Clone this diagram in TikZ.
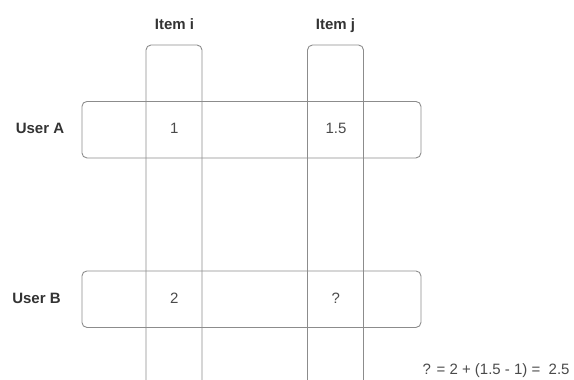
\documentclass[tikz,border=0pt]{standalone}
\usepackage{fontspec}
\setmainfont{Liberation Sans}
\begin{document}
\begin{tikzpicture}[x=1pt,y=-1pt,
  line/.style={draw=lineGray, line width=0.9pt},
  rowbox/.style={line, rounded corners=5pt},
  colbox/.style={line, rounded corners=5pt},
  hdr/.style={font=\fontsize{15}{18}\selectfont\bfseries, text=txtGray, inner sep=0pt, anchor=base},
  val/.style={font=\fontsize{15}{18}\selectfont, text=txtGray2, inner sep=0pt, anchor=base}]
\definecolor{lineGray}{HTML}{8C8C8C}
\definecolor{txtGray}{HTML}{333333}
\definecolor{txtGray2}{HTML}{4A4A4A}
\useasboundingbox (0,0) rectangle (574,380);
% columns (open at bottom)
\draw[colbox] (146,381) -- (146,45) -- (202,45) -- (202,381);
\draw[colbox] (307.5,381) -- (307.5,45) -- (363.5,45) -- (363.5,381);
% rows
\node[rowbox, minimum width=339pt, minimum height=56.5pt, anchor=north west, inner sep=0pt] (rowA) at (81.5,101) {};
\node[rowbox, minimum width=339pt, minimum height=56.5pt, anchor=north west, inner sep=0pt] (rowB) at (81.5,270.5) {};
% headers
\node[hdr] (itemi) at (174.5,29) {Item i};
\node[hdr] (itemj) at (335.5,29) {Item j};
\node[hdr] (usera) at (40,133.3) {User A};
\node[hdr] (userb) at (36.5,303.3) {User B};
% values
\node[val] (v1) at (174.3,133.3) {1};
\node[val] (v15) at (336,133.3) {1.5};
\node[val] (v2) at (174.3,303.3) {2};
\node[val] (vq) at (335.7,303.3) {?};
\node[val, anchor=base west] (formula) at (422.5,374) {? = 2 + (1.5 - 1) =\ \ 2.5};
\end{tikzpicture}
\end{document}
